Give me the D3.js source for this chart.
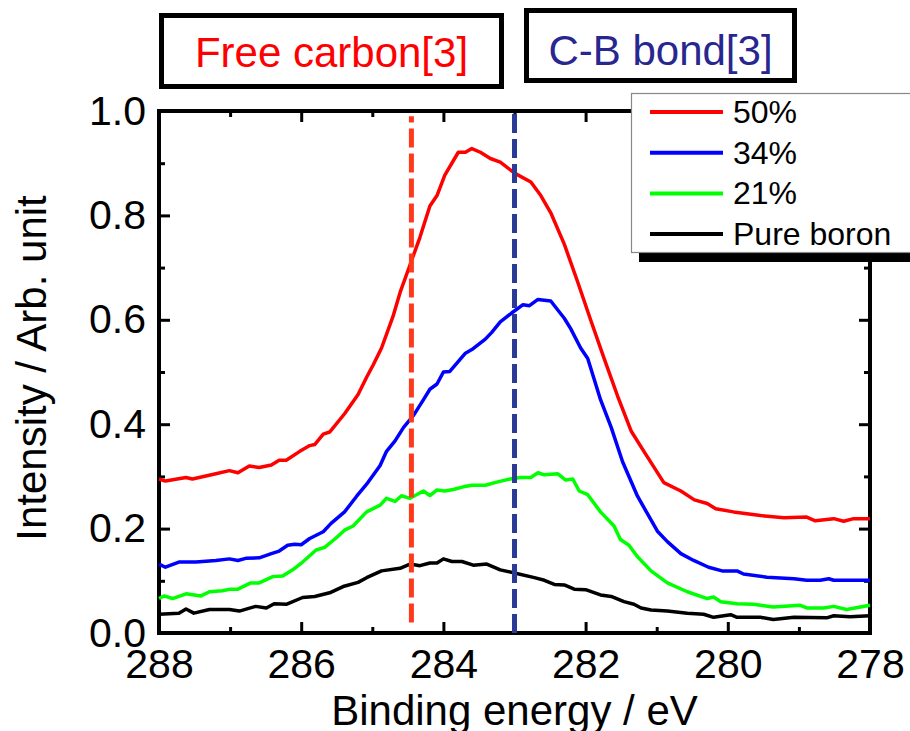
<!DOCTYPE html>
<html>
<head>
<meta charset="utf-8">
<script src="https://cdn.jsdelivr.net/npm/d3@7"></script>
<style>
  body { margin: 0; background: #fff; }
  text { font-family: "Liberation Sans", Arial, sans-serif; }
</style>
</head>
<body>
<div class="chart"></div>
<script>
// XPS C1s spectra: [binding energy (eV), intensity]
var series50 = [[288,0.295],[287.91,0.291],[287.62,0.298],[287.53,0.295],[287.2,0.305],[287.01,0.311],[286.89,0.307],
  [286.73,0.320],[286.59,0.317],[286.42,0.322],[286.31,0.331],[286.21,0.331],[286.02,0.348],[285.88,0.359],[285.81,0.361],
  [285.69,0.381],[285.6,0.385],[285.39,0.420],[285.2,0.457],[285.08,0.490],[284.99,0.513],[284.87,0.546],[284.71,0.606],
  [284.61,0.652],[284.47,0.705],[284.33,0.758],[284.19,0.818],[284.09,0.838],[283.98,0.877],[283.79,0.921],[283.69,0.921],
  [283.6,0.928],[283.48,0.921],[283.34,0.909],[283.2,0.902],[283.0,0.881],[282.77,0.864],[282.63,0.838],[282.49,0.805],
  [282.3,0.745],[282.11,0.672],[281.93,0.600],[281.74,0.526],[281.55,0.454],[281.36,0.387],[281.18,0.348],[280.9,0.288],
  [280.66,0.272],[280.47,0.255],[280.29,0.248],[280.17,0.238],[279.92,0.232],[279.54,0.225],[279.21,0.221],[278.89,0.222],
  [278.77,0.215],[278.51,0.219],[278.37,0.214],[278.23,0.219],[278.0,0.219]];

var series34 = [[288,0.132],[287.91,0.126],[287.72,0.136],[287.48,0.136],[287.2,0.139],[287.01,0.142],[286.89,0.139],
  [286.78,0.143],[286.59,0.144],[286.42,0.152],[286.31,0.157],[286.19,0.168],[286.09,0.170],[286.0,0.169],[285.88,0.181],
  [285.69,0.194],[285.58,0.210],[285.39,0.232],[285.22,0.262],[285.08,0.285],[284.89,0.321],[284.8,0.348],[284.68,0.368],
  [284.56,0.394],[284.42,0.417],[284.28,0.447],[284.19,0.467],[284.09,0.477],[284.0,0.500],[283.91,0.501],[283.81,0.517],
  [283.69,0.536],[283.6,0.543],[283.41,0.563],[283.32,0.576],[283.2,0.596],[283.04,0.613],[282.88,0.629],[282.79,0.627],
  [282.67,0.639],[282.49,0.636],[282.3,0.603],[282.21,0.583],[282.07,0.546],[281.97,0.526],[281.79,0.447],[281.64,0.394],
  [281.48,0.328],[281.27,0.262],[280.99,0.195],[280.85,0.175],[280.66,0.152],[280.48,0.139],[280.27,0.126],[280.08,0.119],
  [279.87,0.119],[279.78,0.113],[279.45,0.107],[279.07,0.104],[278.89,0.101],[278.7,0.101],[278.58,0.104],[278.51,0.101],
  [278.0,0.101]];

var series21 = [[288,0.066],[287.93,0.071],[287.81,0.066],[287.62,0.075],[287.41,0.071],[287.29,0.079],[287.11,0.081],
  [286.99,0.084],[286.89,0.084],[286.71,0.096],[286.59,0.096],[286.4,0.108],[286.26,0.109],[286.12,0.121],[285.98,0.136],
  [285.79,0.159],[285.67,0.164],[285.51,0.182],[285.39,0.197],[285.27,0.205],[285.08,0.232],[284.89,0.245],[284.8,0.258],
  [284.68,0.252],[284.59,0.263],[284.47,0.258],[284.28,0.272],[284.19,0.263],[284.09,0.274],[283.98,0.272],[283.86,0.275],
  [283.72,0.280],[283.6,0.283],[283.41,0.283],[283.25,0.289],[283.06,0.295],[282.92,0.298],[282.77,0.298],[282.67,0.307],
  [282.58,0.303],[282.39,0.305],[282.28,0.293],[282.18,0.295],[282.09,0.272],[281.97,0.265],[281.79,0.232],[281.6,0.205],
  [281.51,0.179],[281.39,0.168],[281.27,0.146],[281.08,0.119],[280.85,0.096],[280.57,0.079],[280.29,0.066],[280.2,0.069],
  [280.1,0.060],[279.87,0.056],[279.64,0.055],[279.36,0.050],[278.98,0.053],[278.89,0.048],[278.65,0.048],[278.51,0.051],
  [278.33,0.045],[278.0,0.053]];

var seriesBoron = [[288,0.036],[287.72,0.038],[287.62,0.046],[287.51,0.038],[287.29,0.045],[287.01,0.045],[286.87,0.042],
  [286.64,0.051],[286.49,0.048],[286.38,0.056],[286.21,0.055],[285.98,0.068],[285.81,0.070],[285.6,0.077],[285.41,0.089],
  [285.2,0.097],[285.08,0.106],[284.87,0.119],[284.61,0.124],[284.47,0.132],[284.33,0.129],[284.19,0.134],[284.09,0.134],
  [284.0,0.142],[283.88,0.137],[283.74,0.137],[283.58,0.130],[283.39,0.132],[283.2,0.121],[283.0,0.115],[282.72,0.106],
  [282.58,0.101],[282.44,0.093],[282.3,0.092],[282.16,0.084],[282.0,0.083],[281.79,0.073],[281.64,0.070],[281.46,0.060],
  [281.32,0.055],[281.22,0.048],[281.08,0.044],[280.85,0.042],[280.57,0.038],[280.34,0.036],[280.2,0.030],[279.96,0.035],
  [279.87,0.030],[279.54,0.030],[279.36,0.026],[279.07,0.030],[278.61,0.029],[278.51,0.033],[278.28,0.031],[278.0,0.033]];

var seriesNames = ["50%", "34%", "21%", "Pure boron"];
var seriesColors = ["#ff0000", "#0000ff", "#00ff00", "#000000"];
var allSeries = [series50, series34, series21, seriesBoron];

// reference peak positions (dashed lines) and their labels
var refLabels = ["Free carbon[3]", "C-B bond[3]"];
var refEnergies = [284.45, 283.0];
var refRange = [[0.02, 0.99], [0.0, 1.0]];
var refColors = ["#ff3a1c", "#2b3a94"];
var refTextColors = ["#ff0000", "#27278f"];

var xTicks = [288, 286, 284, 282, 280, 278];
var xMinorTicks = [287, 285, 283, 281, 279];
var yTicks = [0.0, 0.2, 0.4, 0.6, 0.8, 1.0];
var yMinorTicks = [0.1, 0.3, 0.5, 0.7, 0.9];

var svgWidth = 910;
var svgHeight = 731;

var margin = { top: 111, right: 40, bottom: 98, left: 159 };
var width = svgWidth - margin.left - margin.right;
var height = svgHeight - margin.top - margin.bottom;

var svg = d3.select(".chart")
  .append("svg")
  .attr("width", svgWidth)
  .attr("height", svgHeight)
  .style("display", "block");

svg.append("rect").attr("width", svgWidth).attr("height", svgHeight).attr("fill", "#fff");

var chartGroup = svg.append("g")
  .attr("transform", `translate(${margin.left}, ${margin.top})`);

// energy axis runs backwards
var xScale = d3.scaleLinear().domain([288, 278]).range([0, width]);
var yScale = d3.scaleLinear().domain([0, 1]).range([height, 0]);

function styleAxis(g) {
  g.select(".domain").remove();
  g.selectAll(".tick line").attr("stroke", "#000").attr("stroke-width", 3);
  g.selectAll("text").attr("font-size", 41).attr("fill", "#000")
    .style("font-family", "'Liberation Sans', Arial, sans-serif");
}

// bottom axis with labels, inward ticks
chartGroup.append("g")
  .attr("transform", `translate(0, ${height})`)
  .call(d3.axisBottom(xScale).tickValues(xTicks).tickSize(-11).tickPadding(16).tickFormat(d3.format("d")))
  .call(styleAxis);
chartGroup.append("g")
  .attr("transform", `translate(0, ${height})`)
  .call(d3.axisBottom(xScale).tickValues(xMinorTicks).tickSize(-6).tickFormat(""))
  .call(styleAxis);
// top axis, ticks only
chartGroup.append("g")
  .call(d3.axisTop(xScale).tickValues(xTicks).tickSize(-11).tickFormat(""))
  .call(styleAxis);
chartGroup.append("g")
  .call(d3.axisTop(xScale).tickValues(xMinorTicks).tickSize(-6).tickFormat(""))
  .call(styleAxis);

// left axis with labels
chartGroup.append("g")
  .call(d3.axisLeft(yScale).tickValues(yTicks).tickSize(-11).tickPadding(13).tickFormat(d3.format(".1f")))
  .call(styleAxis);
chartGroup.append("g")
  .call(d3.axisLeft(yScale).tickValues(yMinorTicks).tickSize(-6).tickFormat(""))
  .call(styleAxis);
// right axis, ticks only
chartGroup.append("g")
  .attr("transform", `translate(${width}, 0)`)
  .call(d3.axisRight(yScale).tickValues(yTicks).tickSize(-11).tickFormat(""))
  .call(styleAxis);
chartGroup.append("g")
  .attr("transform", `translate(${width}, 0)`)
  .call(d3.axisRight(yScale).tickValues(yMinorTicks).tickSize(-6).tickFormat(""))
  .call(styleAxis);

// frame
chartGroup.append("rect")
  .attr("width", width)
  .attr("height", height)
  .attr("fill", "none")
  .attr("stroke", "#000")
  .attr("stroke-width", 4);

// spectra
var line = d3.line()
  .x(d => xScale(d[0]))
  .y(d => yScale(d[1]));

chartGroup.selectAll(".spectrum")
  .data(allSeries.slice().reverse())
  .enter()
  .append("path")
  .attr("class", "spectrum")
  .attr("d", line)
  .attr("fill", "none")
  .attr("stroke", (d, i) => seriesColors[allSeries.length - 1 - i])
  .attr("stroke-width", 3.5)
  .attr("stroke-linejoin", "round");

// dashed reference lines
chartGroup.selectAll(".ref")
  .data(refEnergies)
  .enter()
  .append("line")
  .attr("class", "ref")
  .attr("x1", d => xScale(d))
  .attr("x2", d => xScale(d))
  .attr("y1", (d, i) => yScale(refRange[i][0]))
  .attr("y2", (d, i) => yScale(refRange[i][1]))
  .attr("stroke", (d, i) => refColors[i])
  .attr("stroke-width", 5)
  .attr("stroke-dasharray", "19,6");

// label boxes above the plot
var boxes = [
  { x: 161.5, y: 15.5, w: 340, h: 71, base: 67 },
  { x: 526.5, y: 10.5, w: 268, h: 70, base: 65 }
];
boxes.forEach(function(b, i) {
  svg.append("rect")
    .attr("x", b.x).attr("y", b.y)
    .attr("width", b.w).attr("height", b.h)
    .attr("fill", "#fff")
    .attr("stroke", "#000")
    .attr("stroke-width", 5);
  svg.append("text")
    .attr("x", b.x + b.w / 2)
    .attr("y", b.base)
    .attr("text-anchor", "middle")
    .attr("font-size", 42)
    .attr("fill", refTextColors[i])
    .text(refLabels[i]);
});

// legend with drop shadow
var legend = svg.append("g");
legend.append("rect")
  .attr("x", 639).attr("y", 102)
  .attr("width", 290).attr("height", 160)
  .attr("fill", "#000");
legend.append("rect")
  .attr("x", 631.5).attr("y", 93.5)
  .attr("width", 290).attr("height", 159)
  .attr("fill", "#fff")
  .attr("stroke", "#888")
  .attr("stroke-width", 1.2);

seriesNames.forEach(function(name, i) {
  var ly = 112 + i * 40.7;
  legend.append("line")
    .attr("x1", 650).attr("x2", 723)
    .attr("y1", ly).attr("y2", ly)
    .attr("stroke", seriesColors[i])
    .attr("stroke-width", 4);
  legend.append("text")
    .attr("x", 733)
    .attr("y", ly + 11)
    .attr("font-size", 32)
    .attr("fill", "#000")
    .text(name);
});

// axis titles
svg.append("text")
  .attr("x", margin.left + width / 2)
  .attr("y", 725)
  .attr("text-anchor", "middle")
  .attr("font-size", 42)
  .attr("fill", "#000")
  .text("Binding energy / eV");

svg.append("text")
  .attr("transform", "translate(46, 368) rotate(-90)")
  .attr("text-anchor", "middle")
  .attr("font-size", 42)
  .attr("fill", "#000")
  .text("Intensity / Arb. unit");
</script>
</body>
</html>
